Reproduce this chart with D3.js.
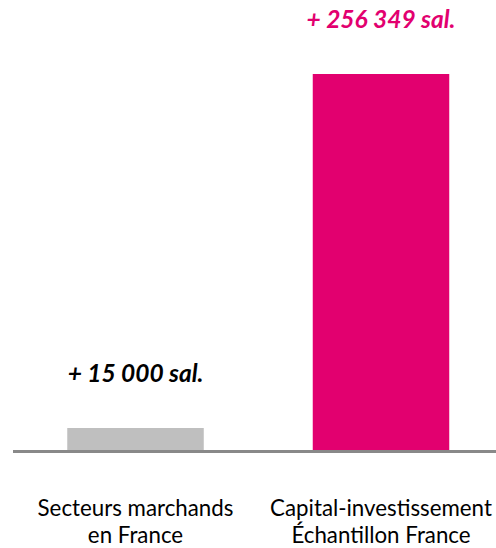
<!DOCTYPE html>
<html><head><meta charset="utf-8">
<script src="https://cdn.jsdelivr.net/npm/d3@7"></script>
<style>body{margin:0;background:#fff}svg{display:block}</style>
</head><body>
<svg id="c" width="496" height="548"></svg>
<script>
const categories = [["Secteurs marchands", "en France"], ["Capital-investissement", "Échantillon France"]];
const values = [15000, 256349];
const valueLabels = ["+ 15 000 sal.", "+ 256 349 sal."];
const colors = ["#BFBFBF", "#E2006F"];
const labelColors = ["#000000", "#E2006F"];

const svg = d3.select("#c");
const font = "Lato, 'Open Sans', sans-serif";
const x = d3.scaleBand().domain(d3.range(values.length)).range([13, 503.5]).paddingInner(0.444).paddingOuter(0.221);
const y = d3.scaleLinear().domain([0, 256349]).range([450, 74]);

svg.selectAll("rect.bar").data(values).join("rect").attr("class","bar")
  .attr("x",(d,i)=>x(i)).attr("width",x.bandwidth())
  .attr("y",d=>y(d)).attr("height",d=>y(0)-y(d))
  .attr("fill",(d,i)=>colors[i]);

svg.append("line").attr("x1",13).attr("x2",496).attr("y1",y(0)+1.5).attr("y2",y(0)+1.5)
  .attr("stroke","#898989").attr("stroke-width",3);

svg.selectAll("text.val").data(values).join("text").attr("class","val")
  .attr("x",(d,i)=>x(i)+x.bandwidth()/2).attr("y",d=>y(d)-46)
  .attr("text-anchor","middle").attr("font-family",font).attr("font-size",24.5)
  .attr("font-weight","bold").attr("font-style","italic")
  .attr("fill",(d,i)=>labelColors[i]).text((d,i)=>valueLabels[i]);

const cat = svg.selectAll("text.cat").data(categories).join("text").attr("class","cat")
  .attr("x",(d,i)=>x(i)+x.bandwidth()/2).attr("y",516)
  .attr("text-anchor","middle").attr("font-family",font).attr("font-size",22.3).attr("fill","#000");
cat.selectAll("tspan").data(d=>d).join("tspan")
  .attr("x",function(){return this.parentNode.getAttribute("x");})
  .attr("dy",(d,j)=>j===0?0:26.5).text(d=>d);
</script>
</body></html>
